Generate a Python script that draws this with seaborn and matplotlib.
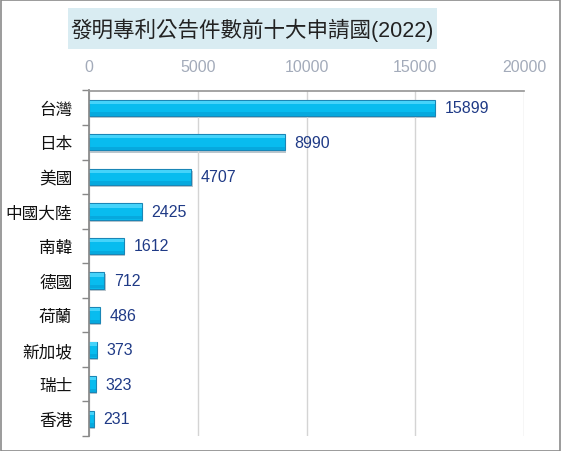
import matplotlib
matplotlib.use('Agg')
import matplotlib.pyplot as plt
import seaborn as sns
import pandas as pd
from matplotlib.patches import Rectangle

countries = ['台灣', '日本', '美國', '中國大陸', '南韓', '德國', '荷蘭', '新加坡', '瑞士', '香港']
counts = [15899, 8990, 4707, 2425, 1612, 712, 486, 373, 323, 231]
x_ticks = [0, 5000, 10000, 15000, 20000]
title = '發明專利公告件數前十大申請國(2022)'

sns.set_theme(style='white')
plt.rcParams['font.family'] = ['Liberation Sans', 'Noto Sans CJK TC', 'DejaVu Sans']

df = pd.DataFrame({'country': countries, 'count': counts})

W, H = 562, 452
fig = plt.figure(figsize=(W / 100, H / 100), dpi=100)
ax = fig.add_axes([89 / W, 15 / H, (524 - 89) / W, (437 - 91.5) / H])

sns.barplot(data=df, x='count', y='country', color='#08bcef', saturation=1,
            width=0.47, edgecolor='#1a86b6', linewidth=0.8, ax=ax)

# glossy look: shadow under each bar and soft light/dark strips
for p in list(ax.patches):
    x, y, w, h = p.get_x(), p.get_y(), p.get_width(), p.get_height()
    ax.add_patch(Rectangle((x + 60, y + 0.06), w, h, color='#bcc6cd', zorder=p.get_zorder() - 0.5, lw=0))
    ax.add_patch(Rectangle((x, y + h * 0.06), w, h * 0.2, color='#45d3fa', zorder=p.get_zorder() + 0.1, lw=0))
    ax.add_patch(Rectangle((x, y + h * 0.78), w, h * 0.2, color='#06a9de', zorder=p.get_zorder() + 0.1, lw=0))

ax.bar_label(ax.containers[0], labels=[str(v) for v in counts], padding=7,
             color='#1f3a86', fontsize=11.5)

ax.set_xlim(0, 20000)
ax.set_xticks(x_ticks)
ax.xaxis.tick_top()
ax.tick_params(axis='x', length=0, pad=12, labelsize=11.5, labelcolor='#a3abba')
ax.grid(axis='x', color='#d4d4d4', linewidth=1)
ax.set_axisbelow(True)

ax.set_ylim(len(countries) - 0.5, -0.5)
ax.set_yticks(range(len(countries)))
ax.set_yticks([i - 0.5 for i in range(len(countries) + 1)], minor=True)
ax.tick_params(axis='y', which='major', length=0, pad=12, labelsize=12, labelcolor='#111111')
ax.tick_params(axis='y', which='minor', length=5, width=1, color='#888888', left=True)
ax.set_xlabel('')
ax.set_ylabel('')

for s in ['right', 'bottom']:
    ax.spines[s].set_visible(False)
ax.spines['top'].set_color('#999999')
ax.spines['left'].set_color('#888888')

# title box
fig.patches.append(Rectangle((68 / W, 1 - 50 / H), (437 - 68) / W, 41 / H,
                             transform=fig.transFigure, color='#d9ecf2', lw=0))
fig.text(252 / W, 1 - 30.5 / H, title, ha='center', va='center', fontsize=15.5, color='#222222')

# outer border
fig.patches.append(Rectangle((0.5 / W, 0.5 / H), 559.5 / W, 450.5 / H, transform=fig.transFigure,
                             fill=False, edgecolor='#8a8a8a', lw=1.2))

plt.savefig('out.png', dpi=100)
plt.close()
